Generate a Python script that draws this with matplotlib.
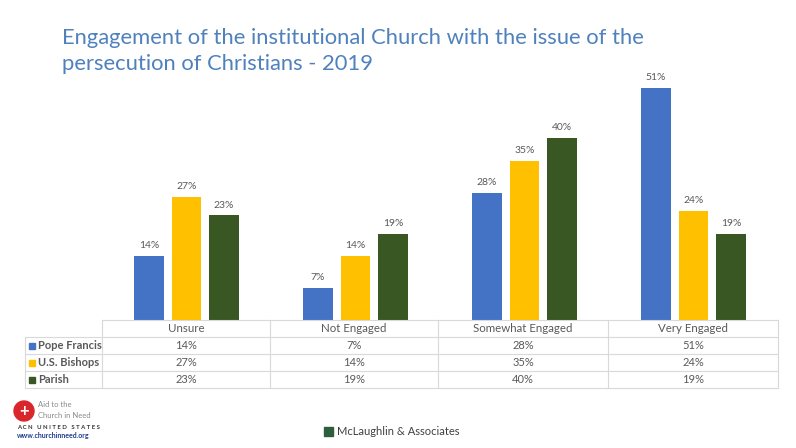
import matplotlib
matplotlib.use('Agg')
import matplotlib.pyplot as plt
import numpy as np
from matplotlib.patches import Ellipse, Rectangle

categories = ['Unsure', 'Not Engaged', 'Somewhat Engaged', 'Very Engaged']
series_names = ['Pope Francis', 'U.S. Bishops', 'Parish']
pope_francis = [14, 7, 28, 51]
us_bishops = [27, 14, 35, 24]
parish = [23, 19, 40, 19]
colors = ['#4472C4', '#FFC000', '#385723']

W, H = 796, 448
plt.rcParams['font.family'] = ['Lato', 'DejaVu Sans']
fig = plt.figure(figsize=(W / 100, H / 100), dpi=100)


def fx(px):
    return px / W


def fy(py):
    return 1 - py / H


# plot area: baseline at y=320, left/right edges match table columns
ax = fig.add_axes([fx(102), fy(320), fx(778 - 102), (320 - 70) / H])
ax.set_xlim(-0.5, 3.5)
ax.set_ylim(0, 55)
ax.axis('off')

x = np.arange(len(categories))
width = 0.172
offset = 0.222
text_gray = '#595959'
for i, (vals, color) in enumerate(zip([pope_francis, us_bishops, parish], colors)):
    pos = x + (i - 1) * offset
    bars = ax.bar(pos, vals, width=width, color=color)
    for b, v in zip(bars, vals):
        ax.text(b.get_x() + b.get_width() / 2, v + 1.3, f'{v}%', ha='center', va='bottom',
                fontsize=7.5, color=text_gray)

# data table below the chart
grid = '#d9d9d9'
col_edges = [102, 270, 438, 608, 778]
row_edges = [320, 337, 354, 371, 388]
fig.add_artist(plt.Line2D([fx(102), fx(778)], [fy(320), fy(320)], color=grid, lw=0.8))
for ry in row_edges[1:]:
    fig.add_artist(plt.Line2D([fx(25), fx(778)], [fy(ry), fy(ry)], color=grid, lw=0.8))
for cx in col_edges:
    fig.add_artist(plt.Line2D([fx(cx), fx(cx)], [fy(320), fy(388)], color=grid, lw=0.8))
fig.add_artist(plt.Line2D([fx(25), fx(25)], [fy(337), fy(388)], color=grid, lw=0.8))

for j, cat in enumerate(categories):
    cx = (col_edges[j] + col_edges[j + 1]) / 2
    fig.text(fx(cx), fy(328.5), cat, ha='center', va='center', fontsize=8.3, color=text_gray)
for i, (name, vals, color) in enumerate(zip(series_names, [pope_francis, us_bishops, parish], colors)):
    cy = (row_edges[i + 1] + row_edges[i + 2]) / 2
    fig.add_artist(Rectangle((fx(29), fy(cy + 3)), fx(6), 6 / H, color=color))
    fig.text(fx(38), fy(cy), name, ha='left', va='center', fontsize=8, color=text_gray,
             fontweight='bold')
    for j, v in enumerate(vals):
        cx = (col_edges[j] + col_edges[j + 1]) / 2
        fig.text(fx(cx), fy(cy), f'{v}%', ha='center', va='center', fontsize=8, color=text_gray)

# title
title_color = '#4F81BD'
fig.text(fx(62), fy(38), 'Engagement of the institutional Church with the issue of the',
         ha='left', va='center', fontsize=15.8, color=title_color)
fig.text(fx(62), fy(64), 'persecution of Christians - 2019',
         ha='left', va='center', fontsize=15.8, color=title_color)

# footer logos
fig.add_artist(Ellipse((fx(24), fy(411)), fx(20), 20 / H, color='#D9262B'))
fig.text(fx(24), fy(411), '+', ha='center', va='center', fontsize=12, color='white',
         fontweight='bold')
fig.text(fx(38), fy(404), 'Aid to the', fontsize=5.5, color='#8a8a8a', va='center')
fig.text(fx(38), fy(415), 'Church in Need', fontsize=5.5, color='#8a8a8a', va='center')
fig.text(fx(17), fy(427), 'A C N   U N I T E D   S T A T E S', fontsize=4.3, color='#333333',
         va='center', fontweight='bold')
fig.text(fx(17), fy(435), 'www.churchinneed.org', fontsize=5, color='#1f3f8a', va='center',
         fontweight='bold')
fig.add_artist(Rectangle((fx(324), fy(436)), fx(9), 9 / H, color='#2E5E3E'))
fig.text(fx(337), fy(431.5), 'McLaughlin & Associates', fontsize=8, color='#404040', va='center')

fig.savefig('out.png', dpi=100)
